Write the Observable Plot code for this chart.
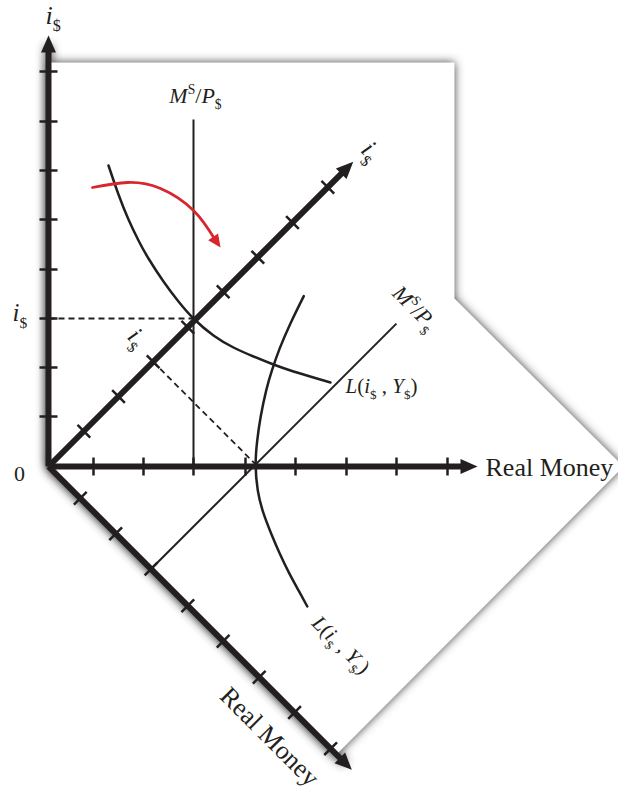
<!DOCTYPE html>
<html><head><meta charset="utf-8">
<script src="https://cdn.jsdelivr.net/npm/d3@7"></script>
<script src="https://cdn.jsdelivr.net/npm/@observablehq/plot@0.6"></script>
<style>html,body{margin:0;padding:0;background:#fff;}#chart svg{display:block;}</style>
</head><body><div id="chart"></div>
<script>
// Diagram units: origin at the corner of the axes, y pointing up.
const xTicks = [45, 95, 145, 197, 247, 298, 348, 399];
const yTicks = [50, 99, 148, 197, 247, 296, 345, 395];
const axisTipX = 429;
const axisTipY = 431;
const demandX = [60, 70, 80, 90, 100, 115, 130, 145, 165, 185, 205, 225, 245, 265, 282];
const demandY = [301, 272, 247, 226, 208, 185, 165, 148, 131, 119, 110, 102, 95, 89, 84];
const supplyX = 145;
const supplyTop = 347;
const eqRate = 148;
const shiftX = [44, 79, 112, 145, 166.5];
const shiftY = [279, 284, 278, 256, 227];
const shiftTip = [172, 219];
const paperX = [0, 406, 406, 575, 288, 0];
const paperY = [404, 404, 168, 0, -288, 0];

const labels = [
  {text: "i$", x: -3, y: 443, size: 26, anchor: "start", copy: true},
  {text: "i$", x: -36, y: 146, size: 25, anchor: "start", copy: true},
  {text: "0", x: -29, y: -14, size: 22, anchor: "middle", copy: false},
  {text: "MS/P$", x: 147, y: 364, size: 22, anchor: "middle", copy: true},
  {text: "L(i$ , Y$)", x: 297, y: 74, size: 21, anchor: "start", copy: true},
  {text: "Real Money", x: 437, y: -9, size: 26, anchor: "start", copy: false},
  {text: "Real Money", x: 170, y: -231, size: 26, anchor: "start", copy: false, rotate: 45}
];
const rich = {
  "i$": [["i", "it"], ["$", "sub"]],
  "MS/P$": [["M", "it"], ["S", "sup"], ["/", ""], ["P", "it"], ["$", "sub"]],
  "L(i$ , Y$)": [["L", "it"], ["(", ""], ["i", "it"], ["$", "sub"], [" , ", ""], ["Y", "it"], ["$", "sub"], [")", ""]]
};

const INK = "#231f20";
const RED = "#d7262d";
const SERIF = "Liberation Serif, Times New Roman, serif";

const ident = (X, Y) => [X, Y];
const rot = (X, Y) => [(X + Y) / Math.SQRT2, (Y - X) / Math.SQRT2];
const TICK = 9;

const axes = [], ticks = [], supply = [], dashed = [], demand = [], heads = [];
[[0, ident], [1, rot]].forEach(([f, T]) => {
  const P = p => T(p[0], p[1]);
  const o = P([0, 0]);
  for (const tip of [[axisTipX, 0], [0, axisTipY]]) {
    const t = P(tip);
    const len = Math.hypot(t[0] - o[0], t[1] - o[1]);
    const u = [(t[0] - o[0]) / len, (t[1] - o[1]) / len];
    axes.push([o, [t[0] - 10 * u[0], t[1] - 10 * u[1]]]);
    heads.push({p: t, angle: Math.atan2(u[0], u[1]) * 180 / Math.PI});
  }
  xTicks.forEach(v => ticks.push([P([v, -TICK]), P([v, TICK])]));
  yTicks.forEach(v => ticks.push([P([-TICK, v]), P([TICK, v])]));
  supply.push([P([supplyX, 0]), P([supplyX, supplyTop])]);
  dashed.push([P([0, eqRate]), P([supplyX, eqRate])]);
  demandX.forEach((x, i) => demand.push({frame: f, p: P([x, demandY[i]])}));
});

const textRows = [];
labels.forEach(l => {
  textRows.push({...l, rotate: l.rotate || 0});
  if (l.copy) {
    const [x, y] = rot(l.x, l.y);
    textRows.push({...l, x, y, rotate: 45});
  }
});

const paper = paperX.map((x, i) => ({x, y: paperY[i]}));
const shift = shiftX.map((x, i) => ({x, y: shiftY[i]}));
const last = shift[shift.length - 1];
const redHeadAngle = Math.atan2(shiftTip[0] - last.x, shiftTip[1] - last.y) * 180 / Math.PI;

const axisHead = {draw(ctx) { ctx.moveTo(0, 0); ctx.lineTo(7.5, 17); ctx.lineTo(-7.5, 17); ctx.closePath(); }};
const redHead = {draw(ctx) { ctx.moveTo(0, 0); ctx.lineTo(6, 13); ctx.lineTo(-6, 13); ctx.closePath(); }};

const seg = {x1: d => d[0][0], y1: d => d[0][1], x2: d => d[1][0], y2: d => d[1][1]};

const svg = Plot.plot({
  width: 618,
  height: 794,
  margin: 0,
  x: {domain: [-48, 570], range: [0, 618], axis: null},
  y: {domain: [-328, 466], range: [794, 0], axis: null},
  style: {background: "white", fontFamily: SERIF},
  marks: [
    Plot.line(paper, {x: "x", y: "y", fill: "#3a3a3a", stroke: "none", ariaDescription: "paper-shadow"}),
    Plot.link(axes, {...seg, stroke: "#3a3a3a", strokeWidth: 7, ariaDescription: "paper-shadow"}),
    Plot.line(paper, {x: "x", y: "y", fill: "white", stroke: "none"}),
    Plot.link(supply, {...seg, stroke: INK, strokeWidth: 2}),
    Plot.link(dashed, {...seg, stroke: INK, strokeWidth: 1.8, strokeDasharray: "6,4"}),
    Plot.line(demand, {x: d => d.p[0], y: d => d.p[1], z: "frame", curve: "natural", stroke: INK, strokeWidth: 2.5}),
    Plot.link(axes, {...seg, stroke: INK, strokeWidth: 6}),
    Plot.link(ticks, {...seg, stroke: INK, strokeWidth: 2.5}),
    Plot.dot(heads, {x: d => d.p[0], y: d => d.p[1], rotate: "angle", symbol: axisHead, r: 5, fill: INK, stroke: "none"}),
    Plot.line(shift, {x: "x", y: "y", curve: "natural", stroke: RED, strokeWidth: 2.8}),
    Plot.dot([shiftTip], {x: d => d[0], y: d => d[1], rotate: redHeadAngle, symbol: redHead, r: 5, fill: RED, stroke: "none"}),
    ...textRows.map(l => Plot.text([l], {x: "x", y: "y", text: "text", rotate: l.rotate, textAnchor: l.anchor, lineAnchor: "bottom", fontSize: l.size, fontFamily: SERIF, fill: INK}))
  ]
});

document.getElementById("chart").append(svg);

// soft shadow for the paper shape
const NS = "http://www.w3.org/2000/svg";
const defs = document.createElementNS(NS, "defs");
defs.innerHTML = '<filter id="paperBlur" x="-30%" y="-30%" width="160%" height="160%"><feGaussianBlur stdDeviation="5"/></filter>';
svg.insertBefore(defs, svg.firstChild);
svg.querySelectorAll('[aria-description="paper-shadow"]').forEach(g => g.setAttribute("filter", "url(#paperBlur)"));

// italic letters, superscripts and subscripts
svg.querySelectorAll("text").forEach(t => {
  const spec = rich[t.textContent];
  if (!spec) return;
  const fs = parseFloat(getComputedStyle(t).fontSize) || 20;
  while (t.firstChild) t.removeChild(t.firstChild);
  let cur = 0;
  for (const [s, kind] of spec) {
    const ts = document.createElementNS(NS, "tspan");
    ts.textContent = s;
    let target = 0;
    if (kind === "sub") { target = 0.3 * fs; ts.setAttribute("font-size", 0.62 * fs); }
    else if (kind === "sup") { target = -0.4 * fs; ts.setAttribute("font-size", 0.62 * fs); }
    if (kind === "it") ts.setAttribute("font-style", "italic");
    ts.setAttribute("dy", target - cur);
    cur = target;
    t.appendChild(ts);
  }
});
</script>
</body></html>
